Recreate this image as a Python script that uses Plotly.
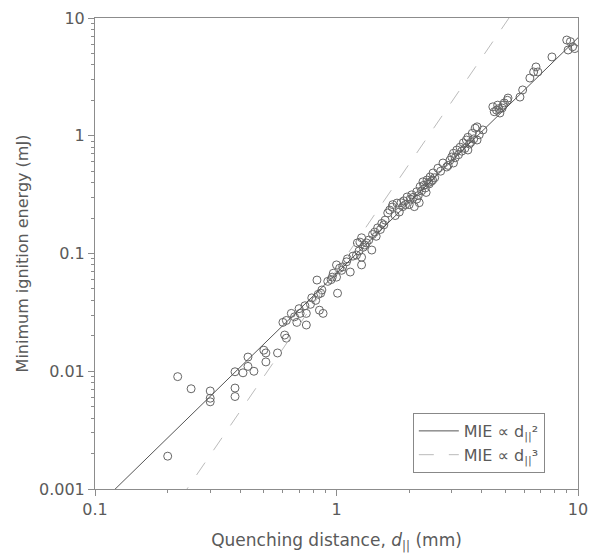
import plotly.graph_objects as go

# measured points: quenching distance (mm) and MIE (mJ)
quench_d = [
    0.20, 0.22, 0.25, 0.30, 0.30, 0.30, 0.38, 0.38, 0.38, 0.41,
    0.43, 0.43, 0.455, 0.50, 0.51, 0.51, 0.57, 0.61, 0.62, 0.60,
    0.65, 0.685, 0.67, 0.75, 0.75, 0.74, 0.78, 0.82, 0.85, 0.88,
    0.707, 0.83, 0.87, 0.86, 0.84, 1.01, 0.96, 0.97, 1.00, 1.03,
    1.00, 1.06, 1.10, 1.11, 1.14, 1.21, 1.22, 1.25, 1.27, 1.29,
    1.33, 1.27, 1.27, 1.40, 1.41, 1.44, 1.48, 1.54, 1.59, 1.63,
    1.66, 1.70, 1.71, 1.78, 1.85, 1.90, 1.96, 2.05, 2.15, 2.22,
    2.28, 2.37, 2.44, 2.00, 2.10, 2.20, 2.15, 2.30, 2.40, 2.50,
    2.51, 2.63, 2.76, 2.86, 2.95, 3.00, 3.05, 3.15, 3.25, 3.35,
    3.45, 3.50, 3.65, 3.75, 3.82, 3.05, 3.50, 3.82, 4.04, 4.44,
    4.60, 4.75, 4.85, 4.90, 5.10, 5.13, 4.65, 5.75, 5.90, 6.32,
    6.55, 6.70, 6.82, 7.80, 8.98, 9.30, 9.50, 9.70, 9.10,
    0.62, 0.70, 0.79, 0.92, 0.95, 1.05, 1.17, 1.24, 1.31, 1.36,
    1.46, 1.52, 1.57, 1.75, 1.82, 1.88, 1.93, 2.02, 2.08, 2.18,
    2.25, 2.33, 2.35, 2.42, 2.47, 2.55, 2.70, 2.90, 3.10, 3.20,
    3.30, 3.40, 3.55, 3.60, 3.70, 3.90, 4.50, 4.70, 4.95,
]
mie = [
    0.0019, 0.0090, 0.0071, 0.0068, 0.0059, 0.0055, 0.0099, 0.0072, 0.0061, 0.0097,
    0.0132, 0.0110, 0.0100, 0.0151, 0.0143, 0.0120, 0.0143, 0.0203, 0.0191, 0.026,
    0.031, 0.026, 0.029, 0.0247, 0.031, 0.036, 0.037, 0.040, 0.033, 0.031,
    0.031, 0.0595, 0.049, 0.046, 0.045, 0.046, 0.063, 0.068, 0.063, 0.075,
    0.080, 0.077, 0.085, 0.090, 0.0696, 0.097, 0.123, 0.125, 0.136, 0.113,
    0.123, 0.093, 0.080, 0.107, 0.145, 0.152, 0.165, 0.180, 0.192, 0.221,
    0.234, 0.248, 0.260, 0.268, 0.27, 0.28, 0.302, 0.315, 0.335, 0.370,
    0.406, 0.421, 0.447, 0.26, 0.25, 0.27, 0.29, 0.38, 0.40, 0.42,
    0.483, 0.53, 0.587, 0.543, 0.62, 0.66, 0.71, 0.757, 0.80, 0.87,
    0.92, 0.97, 1.05, 1.16, 1.19, 0.587, 0.757, 0.92, 1.12, 1.76,
    1.65, 1.56, 1.72, 1.82, 2.00, 2.09, 1.82, 2.13, 2.45, 3.09,
    3.48, 3.84, 3.48, 4.67, 6.5, 6.3, 5.7, 5.5, 5.35,
    0.027, 0.034, 0.042, 0.058, 0.060, 0.072, 0.095, 0.105, 0.118, 0.130,
    0.140, 0.160, 0.175, 0.210, 0.225, 0.250, 0.260, 0.290, 0.300, 0.310,
    0.340, 0.360, 0.330, 0.390, 0.410, 0.440, 0.500, 0.560, 0.650, 0.690,
    0.740, 0.780, 0.850, 0.880, 0.940, 1.020, 1.600, 1.700, 1.900,
]

# fitted trend lines (end points)
fit_d = [0.1, 10]
fit_sq = [0.00068, 6.8]
fit_cu = [0.000072, 72]

axis_col = "#8c8c8c"
text_col = "#5a5a5a"

major_x = [0.1, 1, 10]
major_y = [0.001, 0.01, 0.1, 1, 10]
minor_x = [m * 10 ** e for e in (-1, 0) for m in range(2, 10)]
minor_y = [m * 10 ** e for e in (-3, -2, -1, 0) for m in range(2, 10)]

fig = go.Figure()

fig.add_trace(go.Scatter(
    x=quench_d, y=mie, mode="markers", showlegend=False,
    marker=dict(symbol="circle-open", size=8, color="#666666", line=dict(width=1)),
))

fig.add_trace(go.Scatter(
    x=fit_d, y=fit_sq, mode="lines",
    name="MIE ∝ d<sub>||</sub>²",
    line=dict(color="#555555", width=1),
))

fig.add_trace(go.Scatter(
    x=fit_d, y=fit_cu, mode="lines",
    name="MIE ∝ d<sub>||</sub>³",
    line=dict(color="#bbbbbb", width=1, dash="longdash"),
))

# invisible carrier so the minor-tick overlay axes are drawn
fig.add_trace(go.Scatter(
    x=fit_d, y=fit_sq, mode="lines", xaxis="x2", yaxis="y2",
    showlegend=False, hoverinfo="skip", line=dict(width=0, color="rgba(0,0,0,0)"),
))

axis_common = dict(
    type="log", showgrid=False, zeroline=False, automargin=False,
    showline=True, linecolor=axis_col, linewidth=1, mirror=True,
    ticks="outside", ticklen=6, tickcolor=axis_col,
    tickfont=dict(size=16, color=text_col),
)

# overlay axes carrying only the short minor ticks
minor_common = dict(
    type="log", showgrid=False, zeroline=False, showline=False, automargin=False,
    showticklabels=False, ticks="outside", ticklen=3, tickcolor=axis_col,
)

fig.update_layout(
    xaxis=dict(
        **axis_common, range=[-1, 1],
        tickvals=major_x, ticktext=["0.1", "1", "10"],
        title=dict(text="Quenching distance, <i>d</i><sub>||</sub> (mm)",
                   font=dict(size=17, color=text_col), standoff=16),
    ),
    yaxis=dict(
        **axis_common, range=[-3, 1],
        tickvals=major_y, ticktext=["0.001", "0.01", "0.1", "1", "10"],
        title=dict(text="Minimum ignition energy (mJ)",
                   font=dict(size=16, color=text_col), standoff=6),
    ),
    xaxis2=dict(**minor_common, overlaying="x", anchor="y", side="bottom",
                range=[-1, 1], tickmode="array", tickvals=minor_x),
    yaxis2=dict(**minor_common, overlaying="y", anchor="x", side="left",
                range=[-3, 1], tickmode="array", tickvals=minor_y),
    width=590, height=553,
    margin=dict(l=95, r=12, t=18, b=64, autoexpand=False),
    paper_bgcolor="white", plot_bgcolor="white",
    font=dict(family="DejaVu Sans, Verdana, sans-serif", color=text_col),
    legend=dict(
        x=0.658, y=0.034, xanchor="left", yanchor="bottom",
        bordercolor="#888888", borderwidth=1, bgcolor="white",
        font=dict(size=16, color=text_col),
        itemwidth=40,
    ),
)

fig.write_html("out.html", config={"displayModeBar": False},
               post_script="document.body.style.margin='0px';")
